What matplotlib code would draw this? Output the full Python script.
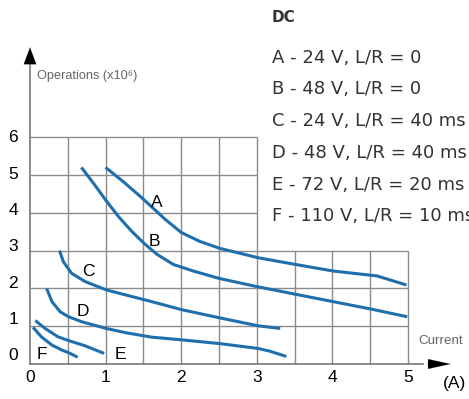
import numpy as np
import matplotlib.pyplot as plt

# curve data: current (A) vs operations (x10^6)
a_x = [1.00, 1.23, 1.46, 1.63, 1.78, 2.00, 2.25, 2.51, 3.02, 3.55, 4.01, 4.59, 4.98]
a_y = [5.20, 4.83, 4.43, 4.12, 3.84, 3.48, 3.24, 3.06, 2.81, 2.62, 2.46, 2.33, 2.09]
b_x = [0.68, 0.84, 1.00, 1.17, 1.35, 1.51, 1.68, 1.90, 2.16, 2.51, 3.02, 3.55, 4.01, 4.52, 4.99]
b_y = [5.20, 4.78, 4.34, 3.90, 3.50, 3.19, 2.90, 2.63, 2.46, 2.26, 2.04, 1.83, 1.65, 1.45, 1.25]
c_x = [0.39, 0.44, 0.55, 0.73, 1.01, 1.26, 1.61, 2.00, 2.51, 3.02, 3.31]
c_y = [3.00, 2.71, 2.40, 2.18, 1.96, 1.83, 1.65, 1.44, 1.22, 1.01, 0.94]
d_x = [0.22, 0.29, 0.40, 0.51, 0.68, 1.01, 1.26, 1.61, 2.00, 2.51, 3.02, 3.17, 3.39]
d_y = [2.00, 1.65, 1.38, 1.25, 1.12, 0.94, 0.83, 0.71, 0.64, 0.54, 0.41, 0.34, 0.20]
e_x = [0.07, 0.20, 0.37, 0.51, 0.73, 0.98]
e_y = [1.15, 0.94, 0.72, 0.62, 0.48, 0.28]
f_x = [0.04, 0.15, 0.29, 0.42, 0.51, 0.63]
f_y = [0.97, 0.72, 0.50, 0.37, 0.30, 0.18]

curve_names = ["A", "B", "C", "D", "E", "F"]
label_x = [1.68, 1.65, 0.77, 0.70, 1.19, 0.16]
label_y = [4.26, 3.25, 2.46, 1.40, 0.26, 0.26]

legend_lines = ["A - 24 V, L/R = 0", "B - 48 V, L/R = 0", "C - 24 V, L/R = 40 ms",
                "D - 48 V, L/R = 40 ms", "E - 72 V, L/R = 20 ms", "F - 110 V, L/R = 10 ms"]

x_ticks = [0, 1, 2, 3, 4, 5]
y_ticks = [0, 1, 2, 3, 4, 5, 6]

blue = '#1f6fad'
gridc = '#8c8c8c'
sans = ['Liberation Sans', 'DejaVu Sans']

fig = plt.figure(figsize=(4.69, 3.99), dpi=100)
ax = fig.add_axes([0, 0, 1, 1])
ax.set_xlim(-0.397, 5.807)
ax.set_ylim(-0.926, 9.63)
ax.axis('off')

# grid (tall part up to x=3, low part to x=5)
ax.vlines([0.5, 1, 1.5, 2, 2.5, 3], 0, 6, color=gridc, lw=1)
ax.vlines([3.5, 4, 4.5, 5], 0, 3, color=gridc, lw=1)
ax.hlines([1, 2, 3], 0, 5, color=gridc, lw=1)
ax.hlines([4, 5, 6], 0, 3, color=gridc, lw=1)

# axes with arrows
ax.plot([0, 0], [0, 7.9], color='#777777', lw=1.2)
ax.plot([0, 5.2], [0, 0], color='#777777', lw=1.2)
ax.annotate('', xy=(0, 8.45), xytext=(0, 7.9),
            arrowprops=dict(arrowstyle='-|>,head_length=1.2,head_width=0.45', color='black', lw=0.1))
ax.annotate('', xy=(5.6, 0), xytext=(5.2, 0),
            arrowprops=dict(arrowstyle='-|>,head_length=1.6,head_width=0.35', color='black', lw=0.1))

for xs, ys in [(a_x, a_y), (b_x, b_y), (c_x, c_y), (d_x, d_y), (e_x, e_y), (f_x, f_y)]:
    ax.plot(xs, ys, color=blue, lw=2.2, solid_capstyle='butt', solid_joinstyle='round')

tickfont = dict(family=sans, fontsize=12.5, color='black')
for n, lx, ly in zip(curve_names, label_x, label_y):
    ax.text(lx, ly, n, ha='center', va='center', **tickfont)

for t in x_ticks:
    ax.text(t, -0.37, str(t), ha='center', va='center', **tickfont)
for t in y_ticks:
    ax.text(-0.22, t + 0.22 - t * 0.04, str(t), ha='center', va='center', **tickfont)

ax.text(0.079, 0.81, 'Operations (x10\u2076)', transform=ax.transAxes, ha='left', va='center',
        fontsize=9.2, color='#666666', family=sans)
ax.text(0.891, 0.145, 'Current', transform=ax.transAxes, ha='left', va='center',
        fontsize=9.6, color='#666666', family=sans)
ax.text(0.945, 0.04, '(A)', transform=ax.transAxes, ha='left', va='center',
        fontsize=12.5, color='black', family=sans)

ax.text(0.58, 0.955, 'DC', transform=ax.transAxes, ha='left', va='center',
        fontsize=11, fontweight='bold', color='#333333', family='DejaVu Sans')
ys_leg = [0.855, 0.777, 0.697, 0.617, 0.536, 0.459]
for s, yy in zip(legend_lines, ys_leg):
    ax.text(0.58, yy, s, transform=ax.transAxes, ha='left', va='center',
            fontsize=13, color='#333333', family='DejaVu Sans')

fig.savefig('out.png', dpi=100)
